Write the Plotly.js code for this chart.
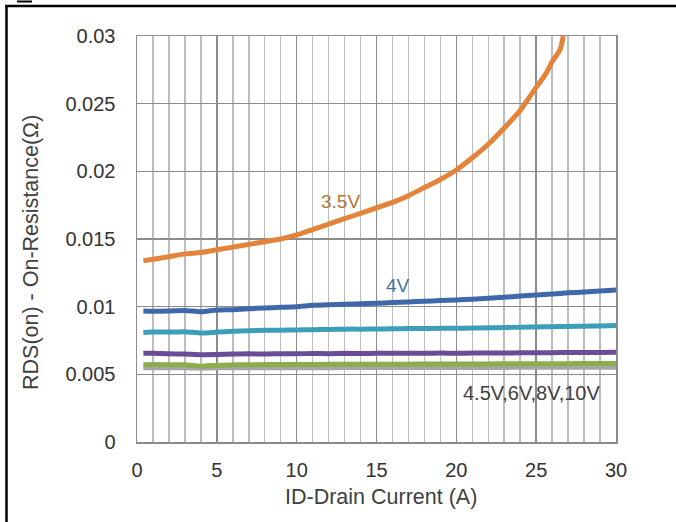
<!DOCTYPE html>
<html>
<head>
<meta charset="utf-8">
<script src="https://cdn.plot.ly/plotly-3.0.1.min.js"></script>
<style>html,body{margin:0;padding:0;background:#fff;}#chart{width:676px;height:522px;}</style>
</head>
<body>
<div id="chart"></div>
<script>
// Data
const xFlat = [0.4,1,2,3,4,5,6,7,8,9,10,11,12,13,14,15,16,17,18,19,20,21,22,23,24,25,26,27,28,29,30];
const rds4V = [0.00968,0.00966,0.00968,0.00972,0.00962,0.00975,0.00978,0.00985,0.00990,0.00995,0.01000,0.01010,0.01015,0.01018,0.01022,0.01025,0.01030,0.01035,0.01040,0.01045,0.01050,0.01055,0.01062,0.01070,0.01078,0.01086,0.01094,0.01102,0.01108,0.01116,0.01123];
const rdsTeal = [0.00810,0.00812,0.00812,0.00815,0.00805,0.00812,0.00818,0.00822,0.00826,0.00826,0.00828,0.00830,0.00832,0.00834,0.00834,0.00835,0.00836,0.00838,0.00838,0.00840,0.00840,0.00842,0.00844,0.00846,0.00848,0.00850,0.00852,0.00854,0.00856,0.00858,0.00860];
const rdsPurple = [0.00655,0.00656,0.00652,0.00650,0.00645,0.00646,0.00650,0.00652,0.00650,0.00653,0.00652,0.00654,0.00653,0.00655,0.00654,0.00655,0.00656,0.00655,0.00656,0.00657,0.00656,0.00657,0.00658,0.00658,0.00659,0.00660,0.00660,0.00661,0.00662,0.00662,0.00663];
const rdsGreen = [0.00570,0.00572,0.00571,0.00570,0.00560,0.00568,0.00570,0.00571,0.00572,0.00572,0.00573,0.00573,0.00574,0.00574,0.00574,0.00575,0.00575,0.00575,0.00576,0.00576,0.00576,0.00577,0.00577,0.00578,0.00578,0.00578,0.00579,0.00579,0.00580,0.00580,0.00580];
const rdsGray = [0.00548,0.00548,0.00548,0.00548,0.00546,0.00548,0.00548,0.00548,0.00549,0.00549,0.00549,0.00549,0.00549,0.00550,0.00550,0.00550,0.00550,0.00550,0.00550,0.00551,0.00551,0.00551,0.00551,0.00551,0.00552,0.00552,0.00552,0.00552,0.00552,0.00552,0.00552];
const x35V = [0.4,1,2,3,4,5,6,7,8,9,10,11,12,13,14,15,16,17,18,19,20,21,22,23,24,25,25.6,26,26.5,26.7];
const rds35V = [0.0134,0.0135,0.0137,0.0139,0.0140,0.0142,0.0144,0.0146,0.0148,0.0150,0.0153,0.0157,0.0161,0.0165,0.0169,0.0173,0.0177,0.0182,0.0188,0.0194,0.0201,0.0210,0.0220,0.0232,0.0245,0.0262,0.0272,0.0281,0.0290,0.0300];
const yTickVals = [0,0.005,0.01,0.015,0.02,0.025,0.03];
const yTickText = ["0","0.005","0.01","0.015","0.02","0.025","0.03"];
const xTickVals = [0,5,10,15,20,25,30];
const labels = ["3.5V","4V","4.5V,6V,8V,10V"];
const xTitle = "ID-Drain Current (A)";
const yTitle = "RDS(on) - On-Resistance(Ω)";

const font = "Liberation Sans, Arial, sans-serif";
function line(x, y, color, w) {
  return {x: x, y: y, type: 'scatter', mode: 'lines', line: {color: color, width: w, shape: 'spline', smoothing: 0.6}, hoverinfo: 'skip'};
}
const traces = [
  line(xFlat, rdsGray, '#a6a6a6', 5),
  line(xFlat, rdsGreen, '#8aae4c', 5),
  line(xFlat, rdsPurple, '#6b4c96', 5),
  line(xFlat, rdsTeal, '#3c9fb7', 5),
  line(xFlat, rds4V, '#3e68a8', 5),
  line(x35V, rds35V, '#e4843a', 5)
];

const toPX = px => (px - 137) / 479;
const toPY = py => (442 - py) / 406;

const layout = {
  width: 676, height: 522,
  margin: {l: 137, r: 60, t: 36, b: 80},
  paper_bgcolor: '#ffffff', plot_bgcolor: '#ffffff',
  showlegend: false,
  xaxis: {
    range: [0, 30], tickvals: xTickVals, ticks: '', showline: true, mirror: true,
    linecolor: '#8c8c8c', linewidth: 1.5,
    showgrid: true, gridcolor: '#8c8c8c', gridwidth: 1.5, zeroline: false,
    minor: {dtick: 1, showgrid: true, gridcolor: '#bdbdbd', gridwidth: 1.5},
    tickfont: {family: font, size: 20, color: '#333333'},
    ticklabelstandoff: 9
  },
  yaxis: {
    range: [0, 0.03], tickvals: yTickVals, ticktext: yTickText, ticks: '', showline: true, mirror: true,
    linecolor: '#8c8c8c', linewidth: 1.5,
    showgrid: true, gridcolor: '#8c8c8c', gridwidth: 1.5, zeroline: false,
    tickfont: {family: font, size: 20, color: '#333333'},
    ticklabelstandoff: 16
  },
  annotations: [
    {x: 12.77, y: 0.01776, xref: 'x', yref: 'y', text: labels[0], showarrow: false, font: {family: font, size: 19, color: '#b5733e'}},
    {x: 16.34, y: 0.0116, xref: 'x', yref: 'y', text: labels[1], showarrow: false, font: {family: font, size: 19, color: '#4a6fa5'}},
    {x: 24.73, y: 0.00362, xref: 'x', yref: 'y', text: labels[2], showarrow: false, font: {family: font, size: 20, color: '#404040'}},
    {x: toPX(381), y: toPY(497), xref: 'paper', yref: 'paper', xanchor: 'center', yanchor: 'middle', text: xTitle, showarrow: false, font: {family: font, size: 21.5, color: '#404040'}},
    {x: toPX(31), y: toPY(253), xref: 'paper', yref: 'paper', xanchor: 'center', yanchor: 'middle', text: yTitle, textangle: -90, showarrow: false, font: {family: font, size: 21.5, color: '#404040'}}
  ],
  shapes: [
    {type: 'line', xref: 'paper', yref: 'paper', x0: toPX(5), x1: toPX(690), y0: toPY(6), y1: toPY(6), line: {color: '#000000', width: 2.5}},
    {type: 'line', xref: 'paper', yref: 'paper', x0: toPX(6.5), x1: toPX(6.5), y0: toPY(5), y1: toPY(540), line: {color: '#000000', width: 2.5}},
    {type: 'line', xref: 'paper', yref: 'paper', x0: toPX(17), x1: toPX(32), y0: toPY(1.5), y1: toPY(1.5), line: {color: '#000000', width: 2}}
  ]
};
Plotly.newPlot('chart', traces, layout, {staticPlot: true, displayModeBar: false});
</script>
</body>
</html>
